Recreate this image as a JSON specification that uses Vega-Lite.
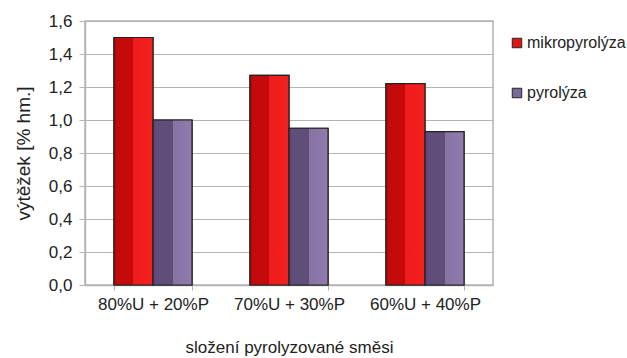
{
  "$schema": "https://vega.github.io/schema/vega-lite/v6.json",
  "width": 408,
  "height": 264,
  "autosize": "none",
  "padding": {"left": 85, "top": 21, "right": 134, "bottom": 73},
  "background": "white",
  "config": {
    "font": "Liberation Sans",
    "view": {"stroke": "#b4b4b4", "strokeWidth": 1.5},
    "axis": {"labelFont": "Liberation Sans", "titleFont": "Liberation Sans", "titleFontWeight": "normal", "labelColor": "#222", "titleColor": "#222"},
    "legend": {"labelFont": "Liberation Sans"}
  },
  "data": {
    "values": [
      {"smes": "80%U + 20%P", "serie": "mikropyrolýza", "vytezek": 1.50},
      {"smes": "80%U + 20%P", "serie": "pyrolýza", "vytezek": 1.00},
      {"smes": "70%U + 30%P", "serie": "mikropyrolýza", "vytezek": 1.27},
      {"smes": "70%U + 30%P", "serie": "pyrolýza", "vytezek": 0.95},
      {"smes": "60%U + 40%P", "serie": "mikropyrolýza", "vytezek": 1.22},
      {"smes": "60%U + 40%P", "serie": "pyrolýza", "vytezek": 0.93}
    ]
  },
  "encoding": {
    "x": {
      "field": "smes",
      "type": "nominal",
      "sort": null,
      "scale": {"paddingInner": 0.426, "paddingOuter": 0.213},
      "axis": {
        "title": "složení pyrolyzované směsi",
        "titleFontSize": 17,
        "titlePadding": 27,
        "labelAngle": 0,
        "labelFontSize": 17,
        "labelPadding": 6,
        "tickBand": "extent",
        "domainColor": "#b4b4b4",
        "domainWidth": 1.5,
        "tickColor": "#b4b4b4",
        "tickSize": 5
      }
    },
    "xOffset": {"field": "serie", "type": "nominal", "sort": ["mikropyrolýza", "pyrolýza"], "scale": {"paddingInner": 0, "paddingOuter": 0}},
    "y": {
      "field": "vytezek",
      "type": "quantitative",
      "scale": {"domain": [0, 1.6], "nice": false},
      "axis": {
        "title": "výtěžek [% hm.]",
        "titleFontSize": 19,
        "titlePadding": 15,
        "labelFontSize": 17,
        "labelPadding": 7,
        "values": [0, 0.2, 0.4, 0.6, 0.8, 1.0, 1.2, 1.4, 1.6],
        "labelExpr": "replace(format(datum.value, '.1f'), '.', ',')",
        "gridColor": "#b4b4b4",
        "gridWidth": 1.2,
        "domainColor": "#b4b4b4",
        "domainWidth": 1.5,
        "tickColor": "#b4b4b4",
        "tickSize": 6
      }
    }
  },
  "layer": [
    {
      "mark": {"type": "bar", "stroke": "#222", "strokeWidth": 1.2},
      "encoding": {
        "color": {
          "field": "serie",
          "type": "nominal",
          "sort": ["mikropyrolýza", "pyrolýza"],
          "scale": {"domain": ["mikropyrolýza", "pyrolýza"], "range": ["#e01414", "#7a6898"]},
          "legend": {
            "title": null,
            "orient": "none",
            "legendX": 424,
            "legendY": 14,
            "symbolType": "square",
            "symbolSize": 90,
            "symbolStrokeColor": "#222",
            "symbolStrokeWidth": 1,
            "labelFontSize": 16,
            "labelColor": "#222",
            "labelOffset": 2,
            "rowPadding": 34
          }
        }
      }
    },
    {
      "mark": {"type": "bar", "stroke": "#222", "strokeWidth": 1.2},
      "encoding": {
        "fill": {
          "condition": {
            "test": "datum.serie === 'mikropyrolýza'",
            "value": {
              "gradient": "linear", "x1": 0, "x2": 1, "y1": 0, "y2": 0,
              "stops": [
                {"offset": 0, "color": "#b00808"},
                {"offset": 0.08, "color": "#c40a0a"},
                {"offset": 0.5, "color": "#c40a0a"},
                {"offset": 0.5, "color": "#ee1c1c"},
                {"offset": 1, "color": "#f42020"}
              ]
            }
          },
          "value": {
            "gradient": "linear", "x1": 0, "x2": 1, "y1": 0, "y2": 0,
            "stops": [
              {"offset": 0, "color": "#564470"},
              {"offset": 0.08, "color": "#5f4d7a"},
              {"offset": 0.5, "color": "#5f4d7a"},
              {"offset": 0.5, "color": "#8673a4"},
              {"offset": 1, "color": "#8e7cac"}
            ]
          }
        }
      }
    }
  ]
}
